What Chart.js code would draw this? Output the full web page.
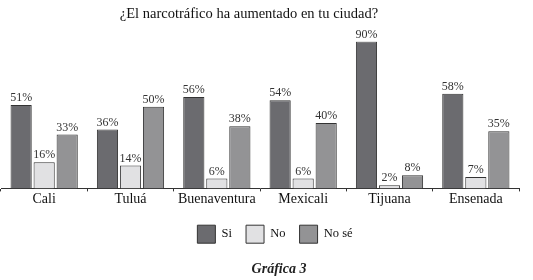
<!DOCTYPE html>
<html>
<head>
<meta charset="utf-8">
<script src="https://cdn.jsdelivr.net/npm/chart.js@4"></script>
<style>
  html, body { margin: 0; padding: 0; background: #fff; }
  #wrap { width: 533px; height: 280px; }
</style>
</head>
<body>
<div id="wrap"><canvas id="chart" width="533" height="280"></canvas></div>
<script>
// ---- data ----
const cities = ['Cali', 'Tuluá', 'Buenaventura', 'Mexicali', 'Tijuana', 'Ensenada'];
const si = [51, 36, 56, 54, 90, 58];
const no = [16, 14, 6, 6, 2, 7];
const noSe = [33, 50, 38, 40, 8, 35];

const serif = "'Liberation Serif', 'DejaVu Serif', serif";

// draw the percentage above each bar
const valueLabels = {
    id: 'valueLabels',
    afterDatasetsDraw(chart) {
        const ctx = chart.ctx;
        ctx.save();
        ctx.font = '12px ' + serif;
        ctx.fillStyle = '#333';
        ctx.textAlign = 'center';
        ctx.textBaseline = 'bottom';
        chart.data.datasets.forEach((ds, i) => {
            chart.getDatasetMeta(i).data.forEach((bar, j) => {
                ctx.fillText(ds.data[j] + '%', bar.x, bar.y - 1);
            });
        });
        ctx.restore();
    }
};

// the original page is not centred on the plot: nudge title / legend / caption
const nudgeBoxes = {
    id: 'nudgeBoxes',
    afterLayout(chart) {
        chart.boxes.forEach(b => {
            if (b.axis) return;
            let dx = 0, dy = 0;
            if (b === chart.legend) { dx = 15; dy = 3; }
            else if (b.position === 'top') dx = -11;
            else if (b.position === 'bottom') dx = 19;
            b.left += dx;
            b.right += dx;
            b.top += dy;
            b.bottom += dy;
            if (b === chart.legend && b.legendHitBoxes) {
                b.legendHitBoxes.forEach(h => { h.left += dx; h.top += dy; });
            }
        });
    }
};

new Chart(document.getElementById('chart').getContext('2d'), {
    type: 'bar',
    data: {
        labels: cities,
        datasets: [
            { label: 'Si', data: si, backgroundColor: '#6b6b6f', borderColor: '#333', borderWidth: 1 },
            { label: 'No', data: no, backgroundColor: '#e1e1e3', borderColor: '#333', borderWidth: 1 },
            { label: 'No sé', data: noSe, backgroundColor: '#939395', borderColor: '#333', borderWidth: 1 }
        ]
    },
    options: {
        responsive: false,
        animation: false,
        layout: { padding: { left: 1, right: 14, top: 0, bottom: 0 } },
        datasets: {
            bar: { categoryPercentage: 0.8, barPercentage: 0.92 }
        },
        scales: {
            x: {
                grid: { offset: true, drawOnChartArea: false, tickLength: 3, color: '#333' },
                border: { color: '#333', width: 1 },
                ticks: { color: '#111', font: { family: serif, size: 14 }, padding: 0 }
            },
            y: {
                display: false,
                min: 0,
                max: 90
            }
        },
        plugins: {
            title: {
                display: true,
                text: '¿El narcotráfico ha aumentado en tu ciudad?',
                color: '#111',
                font: { family: serif, size: 14.5, weight: 'normal' },
                padding: { top: 5, bottom: 19 }
            },
            legend: {
                display: true,
                position: 'bottom',
                labels: {
                    color: '#111',
                    font: { family: serif, size: 12.5 },
                    boxWidth: 18,
                    boxHeight: 18,
                    padding: 14
                }
            },
            subtitle: {
                display: true,
                position: 'bottom',
                text: 'Gráfica 3',
                color: '#222',
                font: { family: serif, size: 14, weight: 'bold', style: 'italic' },
                padding: { top: 11, bottom: 2 }
            },
            tooltip: { enabled: false }
        }
    },
    plugins: [valueLabels, nudgeBoxes]
});
</script>
</body>
</html>
